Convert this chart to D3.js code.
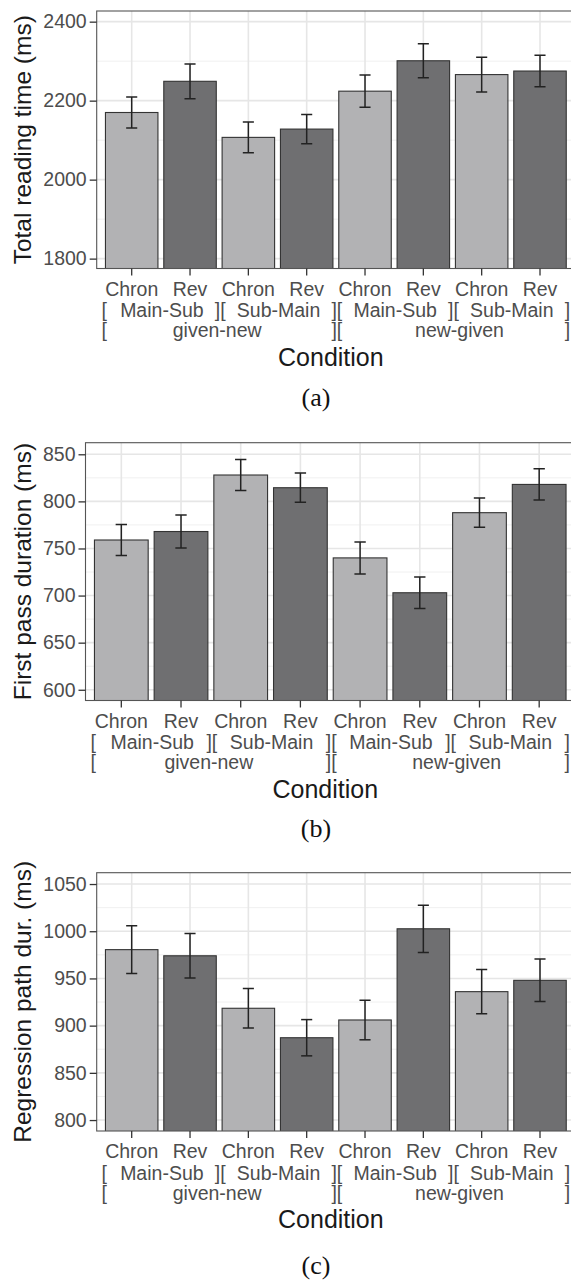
<!DOCTYPE html>
<html>
<head>
<meta charset="utf-8">
<script src="https://cdn.jsdelivr.net/npm/d3@7"></script>
<style>
  html, body { margin: 0; padding: 0; background: #fff; }
  svg { display: block; }
</style>
</head>
<body>
<svg id="chart" width="571" height="1282"></svg>
<script>
// ---------------- data ----------------
const order = ["Chron", "Rev", "Chron", "Rev", "Chron", "Rev", "Chron", "Rev"];
const clause = ["Main-Sub", "Sub-Main", "Main-Sub", "Sub-Main"];
const information = ["given-new", "new-given"];

const readingTime    = [2170, 2249, 2107, 2128, 2224, 2301, 2266, 2275];
const readingTimeErr = [39, 44, 39, 37, 41, 43, 44, 40];

const firstPass      = [759, 768, 828, 814.5, 740, 703, 788, 818];
const firstPassErr   = [16.5, 17.5, 16.5, 15.5, 17, 16.7, 15.5, 16.6];

const regression     = [980.5, 974, 918.4, 887.2, 906, 1002.6, 936, 948];
const regressionErr  = [25.4, 23.6, 21, 19.2, 21, 25, 23.4, 22.5];

const ticksA = [1800, 2000, 2200, 2400];
const minorA = [1900, 2100, 2300];
const ticksB = [600, 650, 700, 750, 800, 850];
const minorB = [625, 675, 725, 775, 825];
const ticksC = [800, 850, 900, 950, 1000, 1050];
const minorC = [825, 875, 925, 975, 1025];

const yTitles = ["Total reading time (ms)", "First pass duration (ms)", "Regression path dur. (ms)"];
const xTitle = "Condition";
const captions = ["(a)", "(b)", "(c)"];

// ---------------- layout ----------------
const categories = order.map((o, i) => i + ":" + o);
const panels = [
  { values: readingTime, errs: readingTimeErr, ticks: ticksA, minor: minorA, domain: [1775, 2427],
    top: 11, bottom: 268.5, left: 96.7, right: 575, capDy: 137, title: yTitles[0], caption: captions[0] },
  { values: firstPass, errs: firstPassErr, ticks: ticksB, minor: minorB, domain: [588.6, 862.3],
    top: 442.7, bottom: 700.5, left: 85.5, right: 575, capDy: 136, title: yTitles[1], caption: captions[1] },
  { values: regression, errs: regressionErr, ticks: ticksC, minor: minorC, domain: [788.4, 1062],
    top: 872.7, bottom: 1131, left: 96.7, right: 575, capDy: 143, title: yTitles[2], caption: captions[2] }
];

const svg = d3.select("#chart");
const LIGHT = "#b2b2b4", DARK = "#6f6f71";
const FONT = "'Liberation Sans', Arial, Helvetica, sans-serif";
const TICK_FS = "19.5px";

panels.forEach((p, pi) => {
  const g = svg.append("g");
  const x = d3.scaleBand().domain(categories).range([p.left, p.right])
    .paddingInner(0.1).paddingOuter(0.15);
  const y = d3.scaleLinear().domain(p.domain).range([p.bottom, p.top]);
  const step = x.step();
  const cx = c => x(c) + x.bandwidth() / 2;

  const clipId = "clip" + pi;
  svg.append("clipPath").attr("id", clipId).append("rect")
    .attr("x", p.left).attr("y", p.top)
    .attr("width", p.right - p.left).attr("height", p.bottom - p.top);

  const inner = g.append("g").attr("clip-path", `url(#${clipId})`);

  // grid: minor horizontal
  inner.selectAll("line.minor").data(p.minor).join("line")
    .attr("x1", p.left).attr("x2", p.right)
    .attr("y1", d => y(d)).attr("y2", d => y(d))
    .attr("stroke", "#f0f0f0").attr("stroke-width", 1);
  // grid: major horizontal
  inner.selectAll("line.major").data(p.ticks).join("line")
    .attr("x1", p.left).attr("x2", p.right)
    .attr("y1", d => y(d)).attr("y2", d => y(d))
    .attr("stroke", "#e6e6e6").attr("stroke-width", 1.6);
  // grid: vertical
  inner.selectAll("line.vmajor").data(categories).join("line")
    .attr("x1", d => cx(d)).attr("x2", d => cx(d))
    .attr("y1", p.top).attr("y2", p.bottom)
    .attr("stroke", "#e6e6e6").attr("stroke-width", 1.6);

  // bars
  inner.selectAll("rect.bar").data(categories).join("rect")
    .attr("x", d => x(d)).attr("width", x.bandwidth())
    .attr("y", (d, i) => y(p.values[i]))
    .attr("height", (d, i) => p.bottom + 2 - y(p.values[i]))
    .attr("fill", (d, i) => i % 2 === 0 ? LIGHT : DARK)
    .attr("stroke", "#333").attr("stroke-width", 1.1);

  // error bars
  const capW = step * 0.19;
  const eb = inner.selectAll("g.eb").data(categories).join("g")
    .attr("stroke", "#222").attr("stroke-width", 1.5);
  eb.append("line").attr("x1", d => cx(d)).attr("x2", d => cx(d))
    .attr("y1", (d, i) => y(p.values[i] + p.errs[i])).attr("y2", (d, i) => y(p.values[i] - p.errs[i]));
  eb.append("line").attr("x1", d => cx(d) - capW / 2).attr("x2", d => cx(d) + capW / 2)
    .attr("y1", (d, i) => y(p.values[i] + p.errs[i])).attr("y2", (d, i) => y(p.values[i] + p.errs[i]));
  eb.append("line").attr("x1", d => cx(d) - capW / 2).attr("x2", d => cx(d) + capW / 2)
    .attr("y1", (d, i) => y(p.values[i] - p.errs[i])).attr("y2", (d, i) => y(p.values[i] - p.errs[i]));

  // panel border
  g.append("rect").attr("x", p.left).attr("y", p.top)
    .attr("width", p.right - p.left).attr("height", p.bottom - p.top)
    .attr("fill", "none").attr("stroke", "#555").attr("stroke-width", 1.1);

  // y axis
  const yAxis = d3.axisLeft(y).tickValues(p.ticks).tickSize(7).tickPadding(3).tickFormat(d3.format("d"));
  const ya = g.append("g").attr("transform", `translate(${p.left},0)`).call(yAxis);
  ya.select(".domain").remove();
  ya.selectAll(".tick line").attr("stroke", "#333").attr("stroke-width", 1.3);
  ya.selectAll(".tick text").attr("fill", "#4d4d4d").style("font-family", FONT).style("font-size", TICK_FS);

  // x axis
  const xAxis = d3.axisBottom(x).tickSize(7).tickPadding(0).tickFormat(() => "");
  const xa = g.append("g").attr("transform", `translate(0,${p.bottom})`).call(xAxis);
  xa.select(".domain").remove();
  xa.selectAll(".tick line").attr("stroke", "#333").attr("stroke-width", 1.3);

  const lab = g.append("g").style("font-family", FONT).style("font-size", TICK_FS).attr("fill", "#4d4d4d");
  // row 1
  lab.selectAll("text.r1").data(categories).join("text")
    .attr("x", d => cx(d)).attr("y", p.bottom + 27).attr("text-anchor", "middle")
    .text((d, i) => order[i]);
  // boundaries between groups
  const boundary = j => j < categories.length ? x(categories[j]) - step * x.paddingInner() / 2
                                               : x(categories[j - 1]) + x.bandwidth() + step * x.paddingInner() / 2;
  // row 2
  clause.forEach((c, k) => {
    const a = boundary(2 * k), b = boundary(2 * k + 2);
    lab.append("text").attr("x", (a + b) / 2 + 1).attr("y", p.bottom + 48.5).attr("text-anchor", "middle").text(c);
  });
  // row 3
  information.forEach((c, k) => {
    const a = boundary(4 * k), b = boundary(4 * k + 4);
    lab.append("text").attr("x", (a + b) / 2 + (k === 1 ? 7 : -2)).attr("y", p.bottom + 68.5).attr("text-anchor", "middle").text(c);
  });
  // brackets
  [[2, 48.5], [4, 68.5]].forEach(([size, dy]) => {
    for (let j = 0; j <= categories.length; j += size) {
      const bx = boundary(j);
      const t = lab.append("text").attr("y", p.bottom + dy);
      if (j === 0) t.attr("x", bx - 1).attr("text-anchor", "start").text("[");
      else if (j === categories.length) t.attr("x", bx + 1).attr("text-anchor", "end").text("]");
      else t.attr("x", bx + 1).attr("text-anchor", "middle").text("][");
    }
  });

  // titles
  g.append("text").attr("x", (p.left + p.right) / 2 - 5).attr("y", p.bottom + 97)
    .attr("text-anchor", "middle").style("font-family", FONT).style("font-size", "25px")
    .attr("fill", "#1a1a1a").text(xTitle);
  g.append("text").attr("transform", `translate(31,${(p.top + p.bottom) / 2}) rotate(-90)`)
    .attr("text-anchor", "middle").style("font-family", FONT).style("font-size", "24.5px")
    .attr("fill", "#1a1a1a").text(p.title);
  // caption
  g.append("text").attr("x", 316).attr("y", p.bottom + p.capDy)
    .attr("text-anchor", "middle").style("font-family", "'Liberation Serif', 'DejaVu Serif', serif")
    .style("font-size", "26px").attr("fill", "#111").text(p.caption);
});
</script>
</body>
</html>
